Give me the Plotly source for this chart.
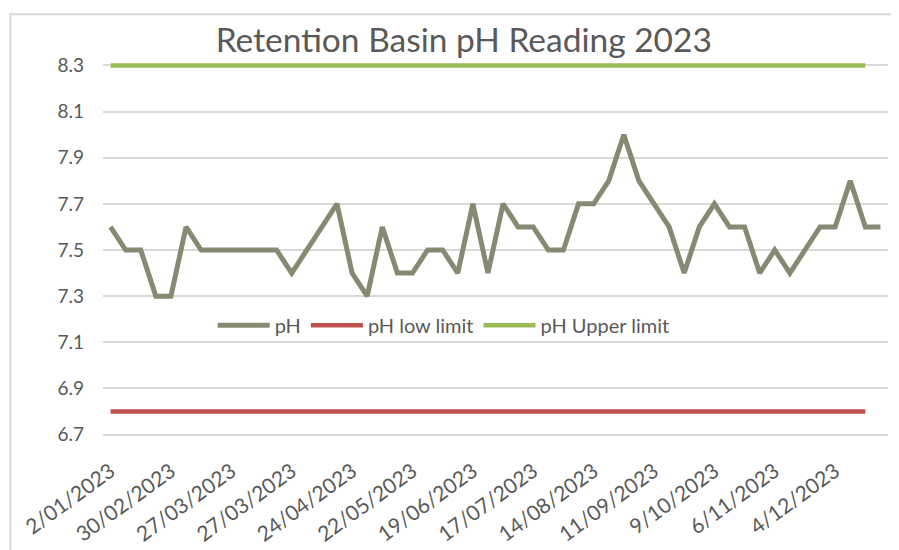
import plotly.graph_objects as go

# Weekly readings (index positions); tick labels every 4th reading, as printed on the chart
ph_values = [7.6, 7.5, 7.5, 7.3, 7.3, 7.6, 7.5, 7.5, 7.5, 7.5, 7.5, 7.5, 7.4, 7.5, 7.6, 7.7,
             7.4, 7.3, 7.6, 7.4, 7.4, 7.5, 7.5, 7.4, 7.7, 7.4, 7.7, 7.6, 7.6, 7.5, 7.5, 7.7,
             7.7, 7.8, 8.0, 7.8, 7.7, 7.6, 7.4, 7.6, 7.7, 7.6, 7.6, 7.4, 7.5, 7.4, 7.5, 7.6,
             7.6, 7.8, 7.6, 7.6]
ph_low_limit = [6.8] * 51
ph_upper_limit = [8.3] * 51
tick_labels = ["2/01/2023", "30/02/2023", "27/03/2023", "27/03/2023", "24/04/2023",
               "22/05/2023", "19/06/2023", "17/07/2023", "14/08/2023", "11/09/2023",
               "9/10/2023", "6/11/2023", "4/12/2023"]

x_ph = list(range(len(ph_values)))
x_lim = list(range(len(ph_low_limit)))
tick_vals = list(range(0, len(ph_values), 4))[:len(tick_labels)]

FONT = "Lato, 'Open Sans', sans-serif"
GREY = "#595959"

fig = go.Figure()
fig.add_trace(go.Scatter(x=x_ph, y=ph_values, mode="lines", name="pH",
                         line=dict(color="#878a72", width=5)))
fig.add_trace(go.Scatter(x=x_lim, y=ph_low_limit, mode="lines", name="pH low limit",
                         line=dict(color="#c0504d", width=4.5)))
fig.add_trace(go.Scatter(x=x_lim, y=ph_upper_limit, mode="lines", name="pH Upper limit",
                         line=dict(color="#9bbb59", width=4.5)))

fig.update_layout(
    width=899, height=550,
    paper_bgcolor="white", plot_bgcolor="white",
    margin=dict(l=92, r=19, t=53.5, b=118.5),
    font=dict(family=FONT, color=GREY),
    title=dict(text="Retention Basin pH Reading 2023", x=0.507, xref="container",
               xanchor="center", y=1 - 32 / 550, yref="container", yanchor="middle",
               font=dict(size=33.5, color=GREY, family=FONT)),
    legend=dict(orientation="h", x=0.434, xanchor="center", y=0.30, yanchor="middle",
                font=dict(size=20, color=GREY), bgcolor="rgba(0,0,0,0)",
                itemwidth=52),
    showlegend=True,
    shapes=[dict(type="rect", xref="paper", yref="paper",
                 x0=-0.118, x1=1.006, y0=-0.4, y1=1.127,
                 line=dict(color="#d9d9d9", width=2), layer="below")],
)
fig.update_xaxes(range=[-0.5, len(ph_values) - 0.5], tickmode="array",
                 tickvals=tick_vals, ticktext=tick_labels, tickangle=-36,
                 showgrid=False, zeroline=False, showline=False, ticks="",
                 ticklabelstandoff=16,
                 tickfont=dict(size=21, color=GREY, family=FONT))
fig.update_yaxes(range=[6.685, 8.315], tickmode="linear", tick0=6.7, dtick=0.2,
                 tickformat=".1f", showgrid=True, gridcolor="#d9d9d9", gridwidth=2,
                 zeroline=False, showline=False, ticks="", ticklabelstandoff=18,
                 tickfont=dict(size=19, color=GREY, family=FONT))

fig.write_html("out.html")
